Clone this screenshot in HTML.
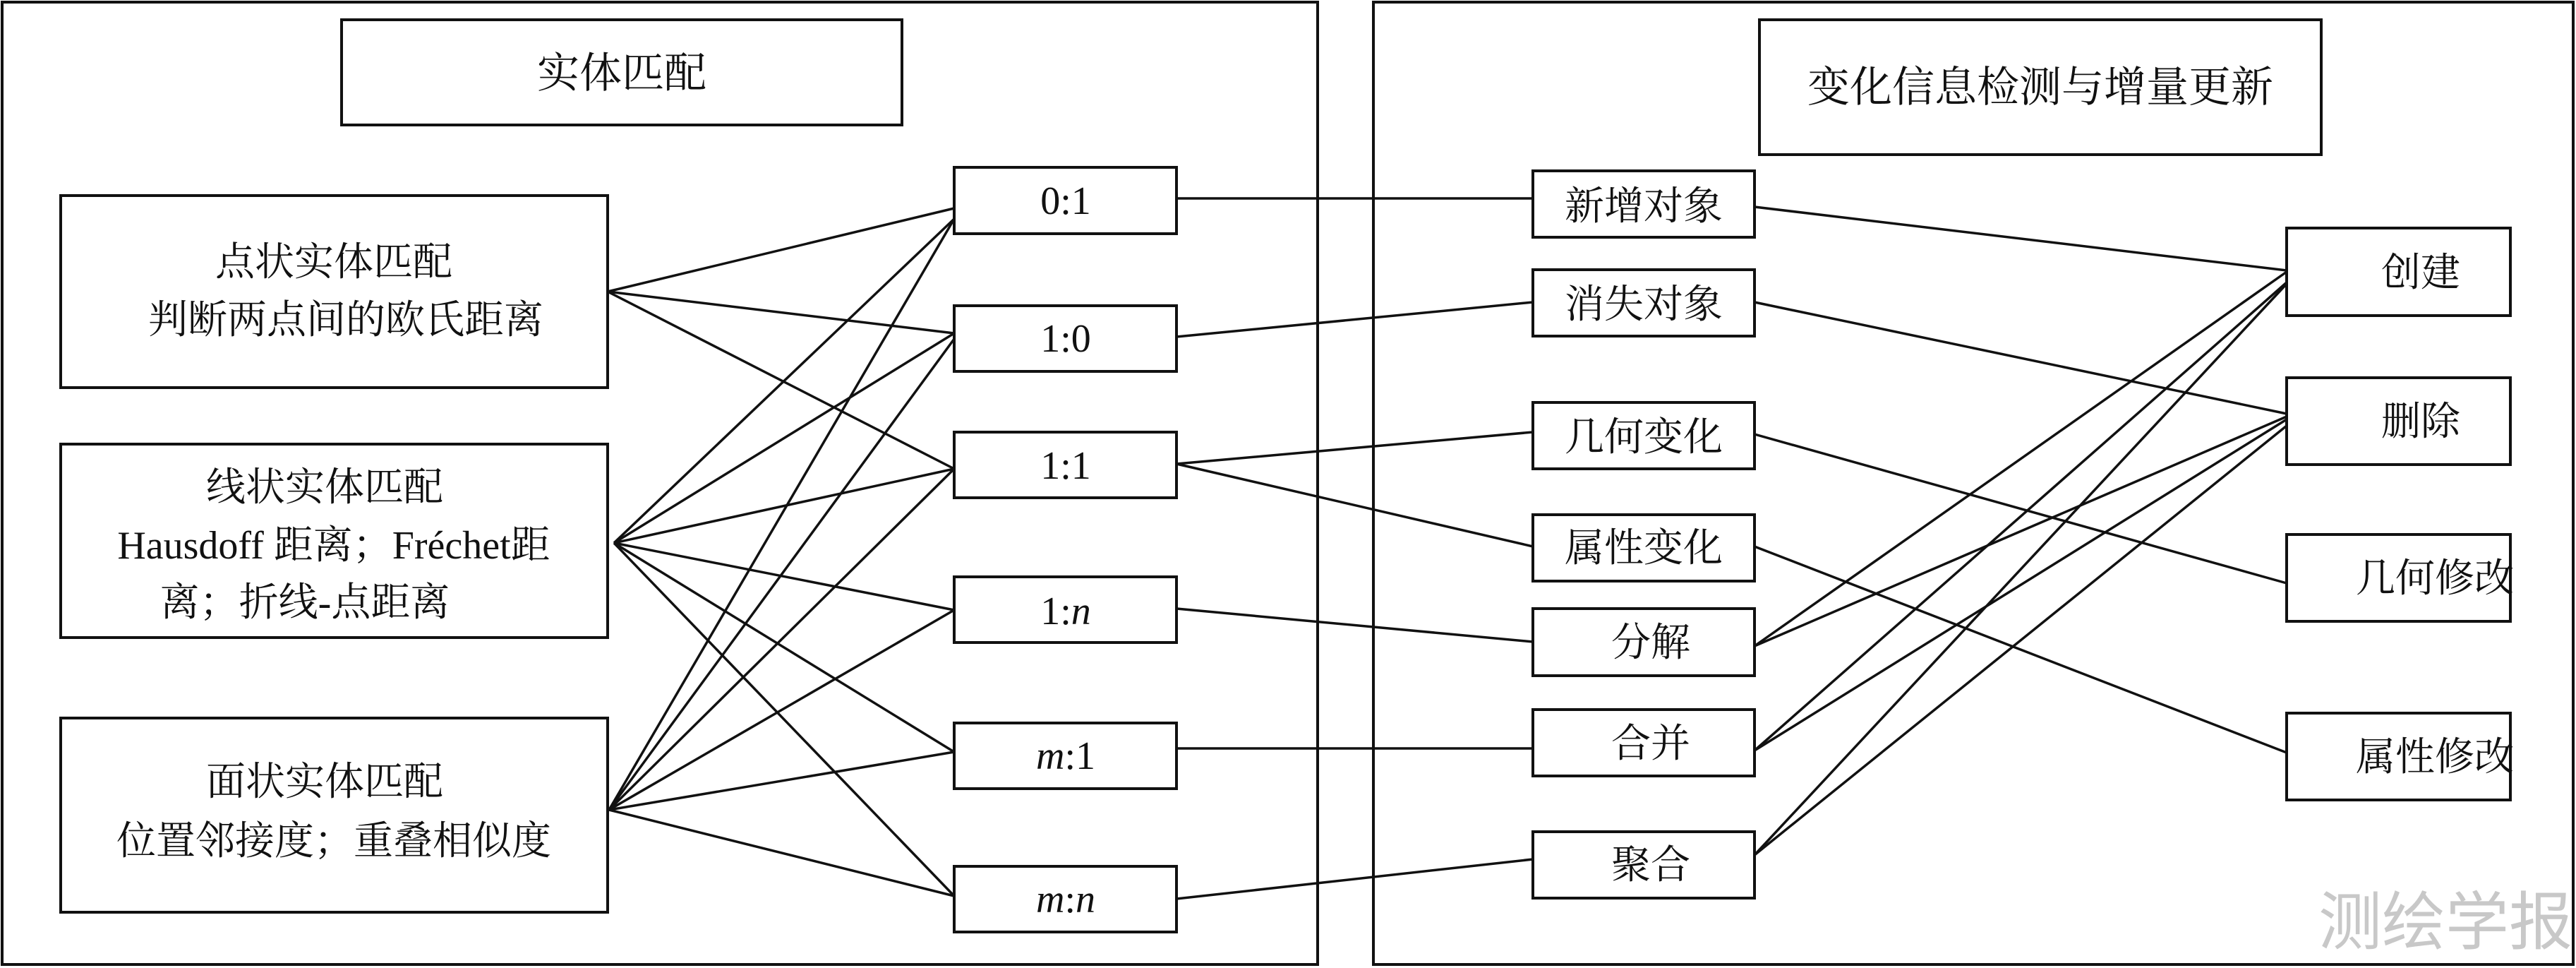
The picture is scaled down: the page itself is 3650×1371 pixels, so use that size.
<!DOCTYPE html>
<html><head><meta charset="utf-8"><style>
html,body{margin:0;padding:0;background:#fff;}
svg{display:block}
text{font-family:"Liberation Serif","Noto Serif CJK SC",serif;fill:#111;dominant-baseline:central;text-anchor:middle}
</style></head><body>
<svg width="3650" height="1371" viewBox="0 0 3650 1371" xmlns="http://www.w3.org/2000/svg">
<g fill="none" stroke="#111" stroke-width="4">
<rect x="3" y="3" width="1864" height="1363"/>
<rect x="1946" y="3" width="1700" height="1363"/>
<rect x="484" y="28" width="794" height="149"/>
<rect x="2493" y="28" width="796" height="191"/>
<rect x="86" y="277" width="775" height="272"/>
<rect x="86" y="629" width="775" height="274"/>
<rect x="86" y="1017" width="775" height="275"/>
<rect x="1352" y="237" width="315" height="94"/>
<rect x="1352" y="433" width="315" height="93"/>
<rect x="1352" y="612" width="315" height="93"/>
<rect x="1352" y="817" width="315" height="93"/>
<rect x="1352" y="1024" width="315" height="93"/>
<rect x="1352" y="1227" width="315" height="93"/>
<rect x="2172" y="242" width="314" height="94"/>
<rect x="2172" y="382" width="314" height="94"/>
<rect x="2172" y="570" width="314" height="94"/>
<rect x="2172" y="729" width="314" height="94"/>
<rect x="2172" y="862" width="314" height="95"/>
<rect x="2172" y="1005" width="314" height="94"/>
<rect x="2172" y="1178" width="314" height="94"/>
<rect x="3240" y="323" width="317" height="124"/>
<rect x="3240" y="535" width="317" height="123"/>
<rect x="3240" y="757" width="317" height="123"/>
<rect x="3240" y="1010" width="317" height="123"/>
</g>
<g stroke="#111" stroke-width="3.5" fill="none">
<!-- point -->
<line x1="861" y1="413" x2="1352" y2="295"/>
<line x1="861" y1="413" x2="1352" y2="472"/>
<line x1="861" y1="413" x2="1352" y2="664"/>
<!-- line entity -->
<line x1="870" y1="769" x2="1352" y2="310"/>
<line x1="870" y1="769" x2="1352" y2="472"/>
<line x1="870" y1="769" x2="1352" y2="664"/>
<line x1="870" y1="769" x2="1352" y2="864"/>
<line x1="870" y1="769" x2="1352" y2="1065"/>
<line x1="870" y1="769" x2="1352" y2="1269"/>
<!-- polygon -->
<line x1="863" y1="1147" x2="1352" y2="310"/>
<line x1="863" y1="1147" x2="1352" y2="480"/>
<line x1="863" y1="1147" x2="1352" y2="664"/>
<line x1="863" y1="1147" x2="1352" y2="864"/>
<line x1="863" y1="1147" x2="1352" y2="1065"/>
<line x1="863" y1="1147" x2="1352" y2="1269"/>
<!-- ratio to middle -->
<line x1="1667" y1="281" x2="2172" y2="281"/>
<line x1="1667" y1="477" x2="2172" y2="428"/>
<line x1="1667" y1="657" x2="2172" y2="612"/>
<line x1="1667" y1="657" x2="2172" y2="774"/>
<line x1="1667" y1="862" x2="2172" y2="909"/>
<line x1="1667" y1="1060" x2="2172" y2="1060"/>
<line x1="1667" y1="1273" x2="2172" y2="1217"/>
<!-- middle to right -->
<line x1="2486" y1="293" x2="3240" y2="383"/>
<line x1="2486" y1="428" x2="3240" y2="586"/>
<line x1="2486" y1="615" x2="3240" y2="826"/>
<line x1="2486" y1="774" x2="3240" y2="1066"/>
<line x1="2486" y1="915" x2="3240" y2="385"/>
<line x1="2486" y1="915" x2="3240" y2="590"/>
<line x1="2486" y1="1063" x2="3240" y2="400"/>
<line x1="2486" y1="1063" x2="3240" y2="594"/>
<line x1="2486" y1="1211" x2="3240" y2="402"/>
<line x1="2486" y1="1211" x2="3240" y2="603"/>
</g>
<g font-size="60">
<text x="881" y="104">实体匹配</text>
<text x="2891" y="124">变化信息检测与增量更新</text>
</g>
<g font-size="56">
<text x="473" y="372">点状实体匹配</text>
<text x="490" y="454">判断两点间的欧氏距离</text>
<text x="460" y="691">线状实体匹配</text>
<text x="473" y="773">Hausdoff 距离；Fréchet距</text>
<text x="432" y="854">离；折线-点距离</text>
<text x="460" y="1108">面状实体匹配</text>
<text x="473" y="1192">位置邻接度；重叠相似度</text>
<text x="1510" y="285">0:1</text>
<text x="1510" y="480">1:0</text>
<text x="1510" y="660">1:1</text>
<text x="1510" y="866">1:<tspan font-style="italic">n</tspan></text>
<text x="1510" y="1071"><tspan font-style="italic">m</tspan>:1</text>
<text x="1510" y="1274"><tspan font-style="italic">m</tspan>:<tspan font-style="italic">n</tspan></text>
<text x="2329" y="293">新增对象</text>
<text x="2329" y="432">消失对象</text>
<text x="2329" y="620">几何变化</text>
<text x="2329" y="777">属性变化</text>
<text x="2339" y="911">分解</text>
<text x="2339" y="1054">合并</text>
<text x="2339" y="1226">聚合</text>
<text x="3430" y="387">创建</text>
<text x="3430" y="598">删除</text>
<text x="3450" y="820">几何修改</text>
<text x="3450" y="1073">属性修改</text>
</g>
<text x="3465" y="1298" font-size="90" style="fill:#c8c8c8;font-family:'Noto Sans CJK SC',sans-serif">测绘学报</text>
</svg>
</body></html>
